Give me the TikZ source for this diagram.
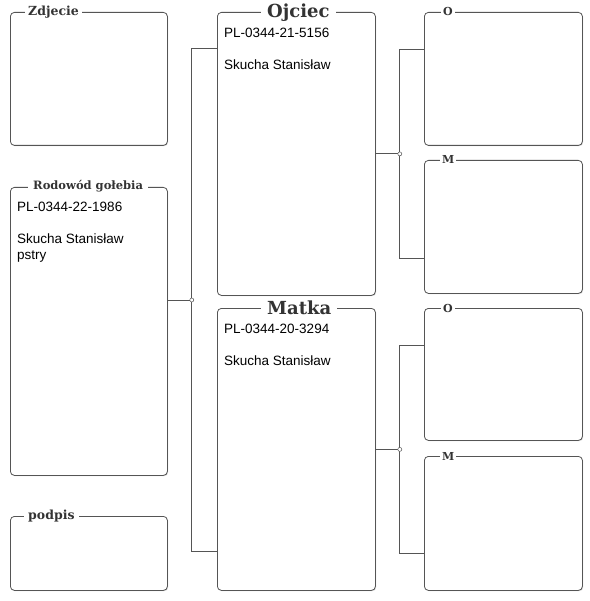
\documentclass[tikz,border=0pt]{standalone}
\usepackage{fontspec}
\setmainfont{Liberation Sans}
\newfontfamily\tfont{DejaVu Serif}
\usetikzlibrary{calc,shadows}
\definecolor{edge}{HTML}{555555}
\definecolor{ttl}{HTML}{333333}
\begin{document}
\begin{tikzpicture}[x=1pt,y=-1pt,
  box/.style={draw=edge,line width=0.8pt,rounded corners=4pt,fill=white,
    drop shadow={shadow xshift=0.8pt,shadow yshift=-0.8pt,opacity=0.3},
    anchor=north west,inner sep=0pt},
  ttlsmall/.style={fill=white,text=ttl,anchor=base west,inner xsep=3pt,inner ysep=1pt,
    font=\tfont\bfseries\fontsize{12.5}{14}\selectfont},
  ttlbig/.style={fill=white,text=ttl,anchor=base west,inner xsep=6pt,inner ysep=1pt,
    font=\tfont\bfseries\fontsize{18}{21}\selectfont},
  body/.style={anchor=north west,inner sep=0pt,align=left,text=black,
    font=\fontsize{13.5}{16}\selectfont},
  wire/.style={draw=edge,line width=0.8pt},
  knot/.style={circle,draw=edge,fill=white,line width=0.5pt,inner sep=0pt,minimum size=4pt}]
\fill[white] (0,0) rectangle (589,601);
\useasboundingbox (0,0) rectangle (589,601);
% boxes
\node[box,minimum width=157pt,minimum height=133pt] (zdj) at (10,12) {};
\node[box,minimum width=157pt,minimum height=288pt] (rod) at (10,187) {};
\node[box,minimum width=157pt,minimum height=74pt] (pod) at (10,516) {};
\node[box,minimum width=158pt,minimum height=283pt] (ojc) at (217,12) {};
\node[box,minimum width=158pt,minimum height=282pt] (mat) at (217,308) {};
\node[box,minimum width=158pt,minimum height=133pt] (oo1) at (424,12) {};
\node[box,minimum width=158pt,minimum height=133pt] (mm1) at (424,160) {};
\node[box,minimum width=158pt,minimum height=132pt] (oo2) at (424,308) {};
\node[box,minimum width=158pt,minimum height=134pt] (mm2) at (424,456) {};
% titles
\node[ttlsmall] (tzdj) at ($(zdj.north west)+(15,3.5)$) {Zdjecie};
\node[ttlsmall,inner xsep=5pt,font=\tfont\bfseries\fontsize{11.5}{13}\selectfont] (trod) at ($(rod.north west)+(18,3)$) {Rodowód gołebia};
\node[ttlsmall,inner xsep=4pt] (tpod) at ($(pod.north west)+(14,3)$) {podpis};
\node[ttlbig] (tojc) at ($(ojc.north west)+(44,6)$) {Ojciec};
\node[ttlbig] (tmat) at ($(mat.north west)+(44,6)$) {Matka};
\node[ttlsmall,inner xsep=2pt,font=\tfont\bfseries\fontsize{11}{13}\selectfont] (too1) at ($(oo1.north west)+(17,4)$) {O};
\node[ttlsmall,inner xsep=2pt,font=\tfont\bfseries\fontsize{11}{13}\selectfont] (tmm1) at ($(mm1.north west)+(16,4)$) {M};
\node[ttlsmall,inner xsep=2pt,font=\tfont\bfseries\fontsize{11}{13}\selectfont] (too2) at ($(oo2.north west)+(17,4)$) {O};
\node[ttlsmall,inner xsep=2pt,font=\tfont\bfseries\fontsize{11}{13}\selectfont] (tmm2) at ($(mm2.north west)+(16,4)$) {M};
% body texts
\node[body] (brod) at ($(rod.north west)+(7,15.3)$) {PL-0344-22-1986\\[16pt]Skucha Stanisław\\pstry};
\node[body] (bojc) at ($(ojc.north west)+(7,16.3)$) {PL-0344-21-5156\\[16pt]Skucha Stanisław};
\node[body] (bmat) at ($(mat.north west)+(7,16.3)$) {PL-0344-20-3294\\[16pt]Skucha Stanisław};
% connectors
\coordinate (j1) at ($(rod.north east)+(24,113)$);
\coordinate (j2) at ($(ojc.east)+(24,0)$);
\coordinate (j3) at ($(mat.east)+(24,0)$);
\draw[wire] ($(rod.north east)+(0,113)$) -- (j1);
\draw[wire] ($(ojc.north west)+(0,36)$) -| (j1) |- ($(mat.south west)+(0,-39)$);
\draw[wire] (ojc.east) -- (j2);
\draw[wire] ($(oo1.north west)+(0,37)$) -| (j2) |- ($(mm1.south west)+(0,-35)$);
\draw[wire] (mat.east) -- (j3);
\draw[wire] ($(oo2.north west)+(0,37)$) -| (j3) |- ($(mm2.south west)+(0,-37)$);
\node[knot] (k1) at (j1) {};
\node[knot] (k2) at (j2) {};
\node[knot] (k3) at (j3) {};
\end{tikzpicture}
\end{document}
